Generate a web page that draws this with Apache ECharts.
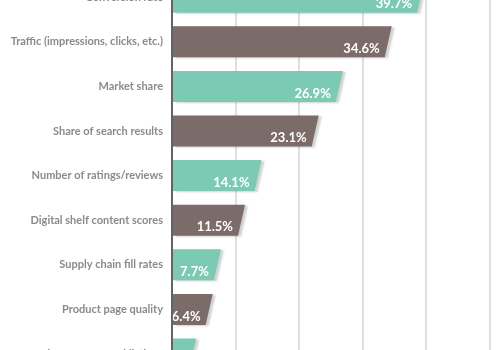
<!DOCTYPE html>
<html>
<head>
<meta charset="utf-8">
<script src="https://cdn.jsdelivr.net/npm/echarts@6/dist/echarts.min.js"></script>
<style>
html,body{margin:0;padding:0;background:#fff;}
#chart{width:500px;height:350px;}
</style>
</head>
<body>
<div id="chart"></div>
<script>
const categories = [
  'Conversion rate',
  'Traffic (impressions, clicks, etc.)',
  'Market share',
  'Share of search results',
  'Number of ratings/reviews',
  'Digital shelf content scores',
  'Supply chain fill rates',
  'Product page quality',
  'Share of featured listings'
];
const values = [39.7, 34.6, 26.9, 23.1, 14.1, 11.5, 7.7, 6.4, 3.8];

const TEAL = '#7ccab3';
const BROWN = '#7b6b69';
const FONT = 'Lato, "DejaVu Sans Condensed", sans-serif';

const chart = echarts.init(document.getElementById('chart'), null, {renderer: 'canvas'});

const seriesData = values.map((v, i) => [i, v]);

chart.setOption({
  animation: false,
  backgroundColor: '#ffffff',
  grid: {left: 172, right: -53, top: -25.1, bottom: -26.3, containLabel: false, outerBoundsMode: 'none'},
  xAxis: {
    type: 'value', min: 0, max: 60, interval: 10,
    axisLine: {show: false}, axisTick: {show: false}, axisLabel: {show: false},
    splitLine: {show: true, lineStyle: {color: '#e0e0e0', width: 2}}
  },
  yAxis: {
    type: 'category', data: categories, inverse: true,
    axisLine: {show: true, lineStyle: {color: '#3a3a3a', width: 1.5}},
    axisTick: {show: false},
    axisLabel: {
      margin: 9, color: '#8a8a8a', fontSize: 11, fontWeight: 'bold',
      fontFamily: FONT
    },
    z: 5
  },
  series: [{
    type: 'custom',
    encode: {x: 1, y: 0},
    data: seriesData,
    renderItem: function (params, api) {
      const idx = api.value(0);
      const val = api.value(1);
      const p0 = api.coord([0, idx]);
      const p1 = api.coord([val, idx]);
      const band = api.size([0, 1])[1];
      const h = band * 0.695;
      const slant = 7;
      const top = p0[1] - h / 2, bot = p0[1] + h / 2;
      const color = idx % 2 === 0 ? TEAL : BROWN;
      return {
        type: 'group',
        children: [
          {
            type: 'polygon',
            shape: {points: [[p0[0] + 1, top], [p1[0], top], [p1[0] - slant, bot], [p0[0] + 1, bot]]},
            style: {
              fill: color,
              shadowColor: 'rgba(0,0,0,0.18)',
              shadowBlur: 2,
              shadowOffsetX: 3,
              shadowOffsetY: 1
            }
          },
          {
            type: 'text',
            style: {
              text: val.toFixed(1) + '%',
              x: p1[0] - 12,
              y: p0[1] + 7,
              align: 'right',
              verticalAlign: 'middle',
              fill: '#ffffff',
              font: 'bold 13px ' + FONT
            },
            z2: 10
          }
        ]
      };
    }
  }]
});
</script>
</body>
</html>
